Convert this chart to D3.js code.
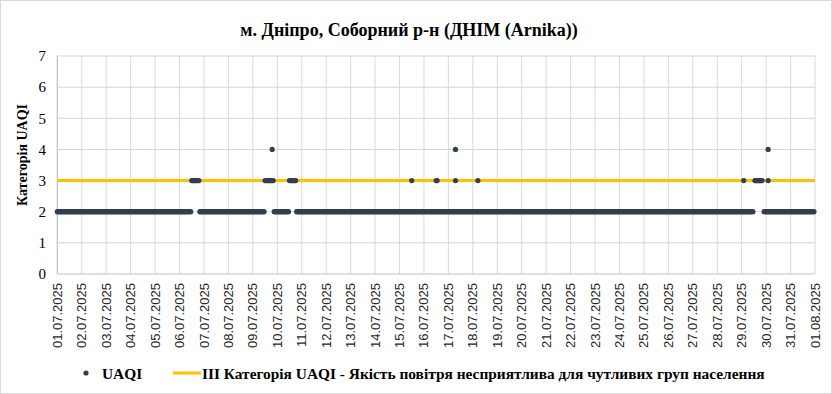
<!DOCTYPE html>
<html>
<head>
<meta charset="utf-8">
<script src="https://cdn.jsdelivr.net/npm/d3@7"></script>
<style>
  body { margin: 0; background: #fff; }
  svg { display: block; }
</style>
</head>
<body>
<div id="chart"></div>
<script>
// categories / ticks
const yTicks = [0, 1, 2, 3, 4, 5, 6, 7];
const startDay = Date.UTC(2025, 6, 1);
const endDay = Date.UTC(2025, 7, 1);

// UAQI readings, run-length encoded as hour offsets from 01.07.2025 00:00
const runStart = [0, 132, 140, 204, 211, 213, 228, 235, 348, 372, 391, 391, 413, 674, 685, 694, 698, 698];
const runEnd   = [131, 139, 203, 212, 211, 227, 234, 683, 348, 373, 391, 391, 413, 674, 692, 743, 698, 698];
const runValue = [2, 3, 2, 3, 4, 2, 3, 2, 3, 3, 3, 4, 3, 3, 3, 2, 3, 4];

// category III threshold line
const thresholdValue = 3;

const title = "м. Дніпро, Соборний р-н (ДНІМ (Arnika))";
const yTitle = "Категорія UAQI";
const legendPoints = "UAQI";
const legendLine = "ІІІ Категорія UAQI - Якість повітря несприятлива для чутливих груп населення";

const width = 832, height = 394;
const plot = { left: 57.3, right: 815, top: 56, bottom: 274 };

const svg = d3.select("#chart").append("svg")
    .attr("width", width)
    .attr("height", height);

svg.append("rect")
    .attr("x", 0.5).attr("y", 0.5)
    .attr("width", width - 1).attr("height", height - 1)
    .attr("fill", "#fff")
    .attr("stroke", "#d9d9d9");

const x = d3.scaleUtc()
    .domain([startDay, endDay])
    .range([plot.left, plot.right]);

const y = d3.scaleLinear()
    .domain([0, 7])
    .range([plot.bottom, plot.top]);

const days = d3.utcDay.range(startDay, endDay + 1);

// gridlines
svg.append("g")
    .selectAll("line")
    .data(yTicks.slice(1))
    .join("line")
    .attr("x1", plot.left).attr("x2", plot.right)
    .attr("y1", d => y(d)).attr("y2", d => y(d))
    .attr("stroke", "#c9d6ec")
    .attr("stroke-width", 1);

svg.append("g")
    .selectAll("line")
    .data(days)
    .join("line")
    .attr("x1", d => x(d)).attr("x2", d => x(d))
    .attr("y1", plot.top).attr("y2", plot.bottom)
    .attr("stroke", "#d9d9d9")
    .attr("stroke-width", 1);

// axis lines
svg.append("line")
    .attr("x1", plot.left).attr("x2", plot.left)
    .attr("y1", plot.top).attr("y2", plot.bottom)
    .attr("stroke", "#bfbfbf");
svg.append("line")
    .attr("x1", plot.left).attr("x2", plot.right)
    .attr("y1", plot.bottom).attr("y2", plot.bottom)
    .attr("stroke", "#bfbfbf");

// y tick labels
svg.append("g")
    .selectAll("text")
    .data(yTicks)
    .join("text")
    .attr("x", 46)
    .attr("y", d => y(d))
    .attr("dy", "0.35em")
    .attr("text-anchor", "end")
    .attr("font-family", "Liberation Serif, Times New Roman, serif")
    .attr("font-size", 15)
    .attr("fill", "#000")
    .text(d => d);

// x tick labels
const fmt = d3.utcFormat("%d.%m.%Y");
svg.append("g")
    .selectAll("text")
    .data(days)
    .join("text")
    .attr("transform", d => `translate(${x(d)},283) rotate(-90)`)
    .attr("dy", "0.35em")
    .attr("text-anchor", "end")
    .attr("font-family", "Liberation Sans, Arial, sans-serif")
    .attr("font-size", 13)
    .attr("fill", "#262626")
    .text(d => fmt(d));

// threshold line
svg.append("line")
    .attr("x1", x(startDay)).attr("x2", x(endDay))
    .attr("y1", y(thresholdValue)).attr("y2", y(thresholdValue))
    .attr("stroke", "#ffc000")
    .attr("stroke-width", 3);

// expand runs into hourly points
const points = [];
runStart.forEach((s, i) => {
    for (let h = s; h <= runEnd[i]; h++) {
        points.push({ t: startDay + h * 3600e3, v: runValue[i] });
    }
});

svg.append("g")
    .selectAll("circle")
    .data(points)
    .join("circle")
    .attr("cx", d => x(d.t))
    .attr("cy", d => y(d.v))
    .attr("r", 2.6)
    .attr("fill", "#333f50");

// title
svg.append("text")
    .attr("x", 409)
    .attr("y", 36)
    .attr("text-anchor", "middle")
    .attr("font-family", "Liberation Serif, Times New Roman, serif")
    .attr("font-weight", "bold")
    .attr("font-size", 18)
    .attr("fill", "#000")
    .text(title);

// y axis title
svg.append("text")
    .attr("transform", `translate(27,${(plot.top + plot.bottom) / 2 - 10}) rotate(-90)`)
    .attr("text-anchor", "middle")
    .attr("font-family", "Liberation Serif, Times New Roman, serif")
    .attr("font-weight", "bold")
    .attr("font-size", 14)
    .attr("fill", "#000")
    .text(yTitle);

// legend
const legend = svg.append("g").attr("font-family", "Liberation Serif, Times New Roman, serif")
    .attr("font-weight", "bold").attr("font-size", 15.4);
legend.append("circle").attr("cx", 86).attr("cy", 373).attr("r", 2.6).attr("fill", "#333f50");
legend.append("text").attr("x", 102).attr("y", 379).text(legendPoints);
legend.append("line").attr("x1", 173).attr("x2", 201).attr("y1", 373).attr("y2", 373)
    .attr("stroke", "#ffc000").attr("stroke-width", 3);
legend.append("text").attr("x", 202).attr("y", 379).text(legendLine);
</script>
</body>
</html>
